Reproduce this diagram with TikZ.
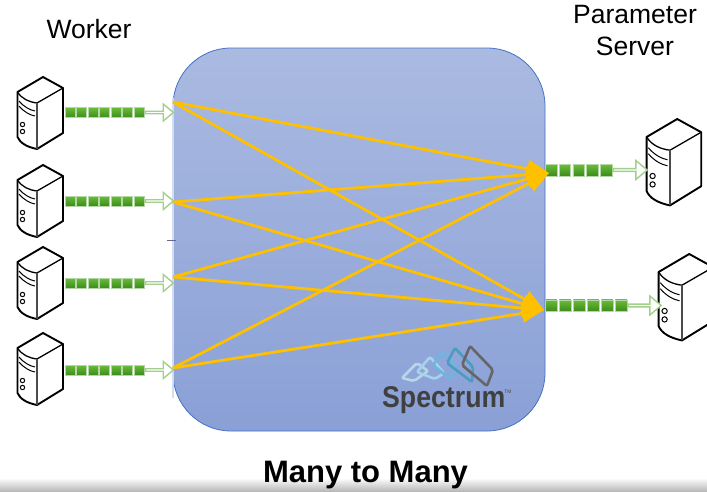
\documentclass[tikz,border=0pt]{standalone}
\usepackage{fontspec}
\setmainfont{Liberation Sans}
\usetikzlibrary{positioning,arrows.meta,shapes.arrows}
\definecolor{flow}{HTML}{FFC000}
\definecolor{edgeblue}{HTML}{4472C4}
\definecolor{qtop}{HTML}{68BE38}
\definecolor{qbottom}{HTML}{3E8A1E}
\definecolor{qedge}{HTML}{B5D6A5}
\definecolor{arrowedge}{HTML}{A3CF8C}
\definecolor{fabrictop}{HTML}{AABAE1}
\definecolor{fabricbottom}{HTML}{8AA0D6}
\definecolor{logoa}{HTML}{B5D8E8}
\definecolor{logob}{HTML}{A5D3EA}
\definecolor{logoc}{HTML}{6CB6E0}
\definecolor{logod}{HTML}{4A9CC0}
\definecolor{logoe}{HTML}{666666}
\tikzset{
  qbox/.style={rectangle,minimum size=#1,inner sep=0pt,top color=qtop,bottom color=qbottom,draw=qedge,line width=.4pt},
  hollow/.style={single arrow,draw=arrowedge,fill=white,line width=1.4pt,inner sep=0pt,single arrow head extend=4pt,single arrow tip angle=80},
  flowline/.style={draw=flow,line width=2.8pt,-{Triangle[length=22pt,width=18pt]}},
  label/.style={font=\fontsize{26.5}{32}\selectfont,align=center},
  diamondline/.style={line width=2.6pt,rounded corners=2pt},
  server/.pic={
    \draw[line width=1.9pt,line join=round,fill=white] (.5,15) -- (26,0) -- (46,11) -- (46,56) -- (20,72) .. controls (10,70) and (3,66) .. (.5,60) -- cycle;
    \draw[line width=1.3pt] (.5,15) .. controls (5,22) and (12,25) .. (20,26) -- (46,11);
    \draw[line width=1.1pt,gray!60!black] (20,26) -- (20,72);
    \draw[line width=1pt] (2,24) .. controls (7,30) and (13,33) .. (18,34);
    \draw[line width=1pt] (2,29) .. controls (7,35) and (13,38) .. (18,39);
    \draw[line width=1pt] (5.5,47.5) circle (2.2);
    \draw[line width=1pt] (5.5,54.5) circle (2.2);
  }
}

\begin{document}
\begin{tikzpicture}[x=1pt,y=-1pt]
  \clip (0,0) rectangle (707,491);
  \shade[top color=white,bottom color=gray!55] (0,478) rectangle (707,491);

  % box in the middle
  \node[draw=edgeblue,line width=.8pt,rounded corners=58pt,top color=fabrictop,bottom color=fabricbottom,minimum width=372pt,minimum height=383pt,inner sep=0pt] (fabric) at (359,239.5) {};
  \draw[fabrictop!50!white,line width=1.5pt] (173,98) -- (173,398);
  \draw[gray!80!blue,line width=1pt] (167,240) -- (176,240);

  \node[label] (worker) at (89,29) {Worker};
  \node[label] (param) at (635,31) {Parameter\\Server};
  \node[font=\fontsize{31}{36}\selectfont\bfseries] (title) at (365.5,475) {Many to Many};

  % workers
  \foreach \n/\yy in {1/77,2/165,3/247,4/333}{
    \pic at (17,\yy) {server};
  }
  \pic at (646,119) [scale=1.2] {server};
  \pic at (658,254) [scale=1.2] {server};

  % queues on the left
  \foreach \n/\yy in {1/112.5,2/201,3/283,4/370}{
    \foreach \i in {1,...,7}{
      \node[qbox=10pt] (w\n-\i) at ({70+11.5*(\i-1)},\yy) {};
    }
    \node[hollow,minimum height=28pt,minimum width=17pt,right=.5pt of w\n-7] (wa\n) {};
  }
  \coordinate (w1) at (173,102);
  \coordinate (w2) at (173,202);
  \coordinate (w3) at (173,277);
  \coordinate (w4) at (173,368);

  % queues on the right
  \foreach \i in {1,...,5}{
    \node[qbox=11.5pt] (p1-\i) at ({551+13.75*(\i-1)},170) {};
  }
  \foreach \i in {1,...,6}{
    \node[qbox=11.5pt] (p2-\i) at ({551+14*(\i-1)},305.5) {};
  }
  \node[hollow,minimum height=34pt,minimum width=19pt,right=.5pt of p1-5] (pa1) {};
  \node[hollow,minimum height=33pt,minimum width=19pt,right=.5pt of p2-6] (pa2) {};

  \coordinate (s1) at (549,173);
  \coordinate (s2) at (544,310);

  \foreach \n in {1,...,4}{
    \draw[flowline] (w\n) -- (s1);
    \draw[flowline] (w\n) -- (s2);
  }

  % logo
  \draw[diamondline,logoa] (417,363) -- (428,371) -- (414,381) -- (402,378) -- cycle;
  \draw[diamondline,logob] (430,357) -- (444,373) -- (435,379) -- (417,372) -- cycle;
  \draw[diamondline,logoc] (442,352) -- (457,367) -- (450,379) -- (433,365) -- cycle;
  \draw[diamondline,logod] (455,348) -- (473,367) -- (472,382) -- (447,363) -- cycle;
  \draw[diamondline,logoe] (470,346) -- (493,370) -- (487,386) -- (462,365) -- cycle;
  \node[font=\fontsize{30}{32}\selectfont\bfseries,text=black!75,xscale=.89,inner sep=0pt,anchor=base west] (logo) at (382,407) {Spectrum};
  \node[font=\fontsize{5}{6}\selectfont,text=black!70,inner sep=0pt] (tm) at (508,392) {TM};
\end{tikzpicture}
\end{document}
